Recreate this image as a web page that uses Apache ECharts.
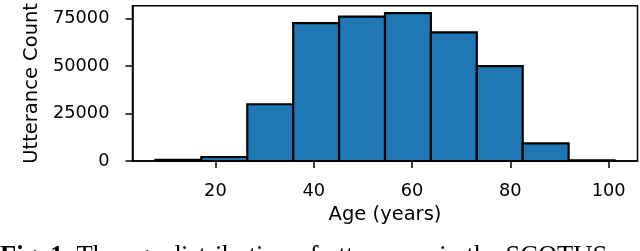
<!DOCTYPE html>
<html>
<head>
<meta charset="utf-8">
<script src="https://cdn.jsdelivr.net/npm/echarts@6/dist/echarts.min.js"></script>
<style>
html,body{margin:0;padding:0;background:#fff;}
#chart{width:640px;height:251px;}
</style>
</head>
<body>
<div id="chart"></div>
<script>
// Histogram bin edges (age in years) and utterance counts per bin
const binEdges = [7.8, 17.14, 26.48, 35.82, 45.16, 54.5, 63.84, 73.18, 82.52, 91.86, 101.2];
const counts = [600, 2100, 29900, 72600, 76100, 77900, 67800, 50000, 9300, 400];
const xTicks = [20, 40, 60, 80, 100];
const yTicks = [0, 25000, 50000, 75000];
const xTitle = 'Age (years)';
const yTitle = 'Utterance Count';
const caption = 'Fig. 1.';
const captionRest = ' The age distribution of utterances in the SCOTUS';

const bars = counts.map((c, i) => [binEdges[i], binEdges[i + 1], c]);

const chart = echarts.init(document.getElementById('chart'), null, {renderer: 'canvas'});
const tickFont = {fontFamily: 'DejaVu Sans', fontSize: 17.8, color: '#000'};
chart.setOption({
  animation: false,
  backgroundColor: '#fff',
  grid: {left: 132.5, right: 2.5, top: 5, bottom: 90, show: true, borderColor: '#000', borderWidth: 1.5, backgroundColor: 'transparent'},
  xAxis: {
    type: 'value', min: 3.13, max: 105.87,
    name: xTitle, nameLocation: 'middle', nameGap: 44,
    nameTextStyle: {fontFamily: 'DejaVu Sans', fontSize: 19.5, color: '#000'},
    axisLine: {show: true, onZero: false, lineStyle: {color: '#000', width: 1.5}},
    axisTick: {show: true, length: 7, lineStyle: {color: '#000', width: 1.5}, customValues: xTicks},
    axisLabel: Object.assign({margin: 21, customValues: xTicks, formatter: v => String(v)}, tickFont),
    splitLine: {show: false}
  },
  yAxis: {
    type: 'value', min: 0, max: 81800,
    name: yTitle, nameLocation: 'middle', nameGap: 88, nameRotate: 90,
    nameTextStyle: {fontFamily: 'DejaVu Sans', fontSize: 19.5, color: '#000'},
    axisLine: {show: true, lineStyle: {color: '#000', width: 1.5}},
    axisTick: {show: true, length: 7, lineStyle: {color: '#000', width: 1.5}, customValues: yTicks},
    axisLabel: Object.assign({margin: 23, customValues: yTicks, formatter: v => String(v)}, tickFont),
    splitLine: {show: false}
  },
  series: [{
    type: 'custom',
    data: bars,
    encode: {x: [0, 1], y: 2},
    renderItem: function (params, api) {
      const p0 = api.coord([api.value(0), 0]);
      const p1 = api.coord([api.value(1), api.value(2)]);
      return {
        type: 'rect',
        shape: {x: p0[0], y: p1[1], width: p1[0] - p0[0], height: p0[1] - p1[1]},
        style: {fill: '#1f77b4', stroke: '#000', lineWidth: 2.2}
      };
    }
  }],
  graphic: [{
    type: 'text', left: 0, top: 244,
    style: {
      text: '{b|' + caption + '}{r|' + captionRest + '}',
      rich: {
        b: {fontFamily: 'Liberation Serif', fontSize: 26.5, fontWeight: 'bold', fill: '#000'},
        r: {fontFamily: 'Liberation Serif', fontSize: 26.5, fill: '#000'}
      }
    }
  }]
});
</script>
</body>
</html>
